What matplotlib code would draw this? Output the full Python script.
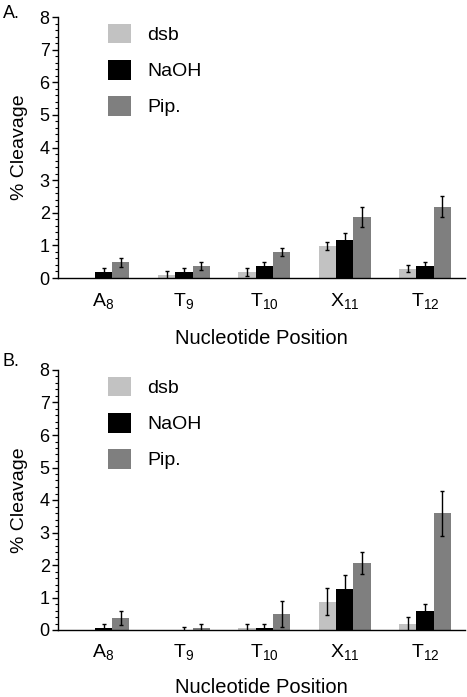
import numpy as np
import matplotlib
matplotlib.use("Agg")
import matplotlib.pyplot as plt
from matplotlib.ticker import MultipleLocator

plt.rcParams['font.family'] = ['Liberation Sans', 'DejaVu Sans']
plt.rcParams['mathtext.fontset'] = 'custom'
plt.rcParams['mathtext.rm'] = 'Liberation Sans'

categories = [r'$\mathregular{A_{8}}$', r'$\mathregular{T_{9}}$', r'$\mathregular{T_{10}}$',
              r'$\mathregular{X_{11}}$', r'$\mathregular{T_{12}}$']
series = ['dsb', 'NaOH', 'Pip.']
colors = ['#c2c2c2', '#000000', '#7f7f7f']

# Panel A
a_dsb = [0.0, 0.08, 0.19, 0.98, 0.29]
a_dsb_err = [0.0, 0.13, 0.12, 0.12, 0.11]
a_naoh = [0.19, 0.19, 0.38, 1.18, 0.38]
a_naoh_err = [0.12, 0.12, 0.12, 0.21, 0.11]
a_pip = [0.48, 0.38, 0.79, 1.88, 2.18]
a_pip_err = [0.14, 0.12, 0.12, 0.31, 0.32]

# Panel B
b_dsb = [0.0, 0.0, 0.07, 0.87, 0.17]
b_dsb_err = [0.0, 0.0, 0.11, 0.41, 0.23]
b_naoh = [0.07, 0.0, 0.07, 1.27, 0.58]
b_naoh_err = [0.11, 0.08, 0.11, 0.42, 0.22]
b_pip = [0.38, 0.07, 0.48, 2.06, 3.59]
b_pip_err = [0.22, 0.11, 0.40, 0.35, 0.69]

W, H = 467, 697
fig = plt.figure(figsize=(W / 100, H / 100), dpi=100)


def panel(rect, vals, errs, letter, letter_y, xlabelpad):
    ax = fig.add_axes(rect)
    x = np.arange(len(categories))
    width = 0.215
    offsets = [-width, 0, width]
    for v, e, c, off, name in zip(vals, errs, colors, offsets, series):
        ax.bar(x + off, v, width=width, color=c, label=name, zorder=2)
        v = np.array(v); e = np.array(e)
        m = e > 0
        ax.errorbar(x[m] + off, v[m], yerr=e[m], fmt='none', ecolor='black',
                    elinewidth=1.0, capsize=1.6, capthick=1.0, zorder=3)
    ax.set_xlim(-0.566, 4.496)
    ax.set_ylim(0, 8)
    ax.set_xticks(x)
    ax.set_xticklabels(categories, fontsize=14)
    ax.yaxis.set_major_locator(MultipleLocator(1))
    ax.yaxis.set_minor_locator(MultipleLocator(0.2))
    ax.tick_params(axis='y', which='major', direction='out', length=4, width=1,
                   labelsize=13, pad=2)
    ax.tick_params(axis='y', which='minor', direction='out', length=2.5, width=0.8)
    ax.tick_params(axis='x', which='both', length=0, pad=9)
    for s in ['top', 'right']:
        ax.spines[s].set_visible(False)
    for s in ['left', 'bottom']:
        ax.spines[s].set_linewidth(1.0)
    ax.set_ylabel('% Cleavage', fontsize=14, labelpad=8)
    ax.set_xlabel('Nucleotide Position', fontsize=14.5, labelpad=xlabelpad)
    ax.legend(loc='upper left', bbox_to_anchor=(0.123, 0.975), frameon=False,
              fontsize=14, handlelength=1.2, handleheight=1.2,
              labelspacing=0.8, handletextpad=0.8, borderpad=0,
              borderaxespad=0)
    fig.text(3 / W, letter_y, letter, fontsize=13, ha='left', va='top')
    return ax


panel([58 / W, 1 - 278 / H, 407 / W, 261 / H],
      [a_dsb, a_naoh, a_pip], [a_dsb_err, a_naoh_err, a_pip_err], 'A.', 1 - 5 / H, 13)
panel([58 / W, 1 - 630 / H, 407 / W, 260 / H],
      [b_dsb, b_naoh, b_pip], [b_dsb_err, b_naoh_err, b_pip_err], 'B.', 1 - 353 / H, 11.5)

fig.savefig('out.png', dpi=100)
